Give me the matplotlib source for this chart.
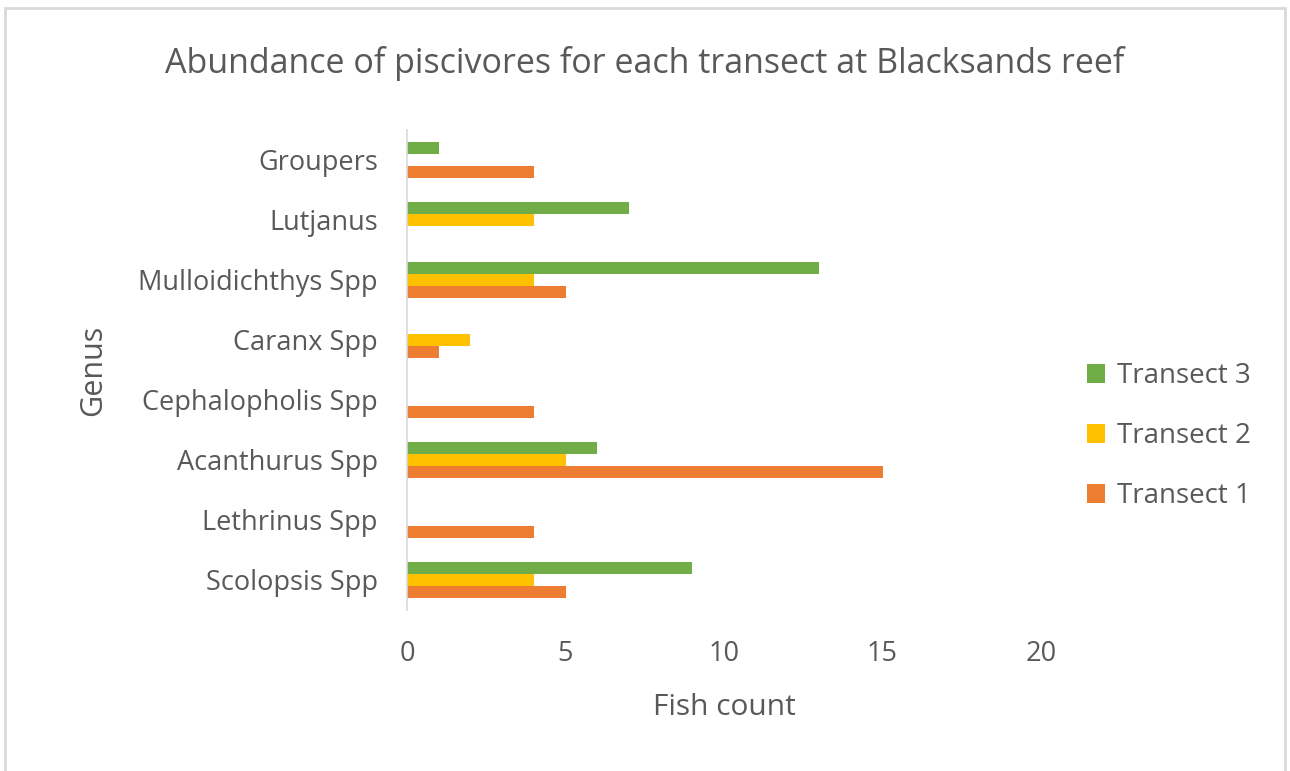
import numpy as np
import matplotlib.pyplot as plt
from matplotlib.patches import Rectangle

# Data (bottom to top)
genera = ["Scolopsis Spp", "Lethrinus Spp", "Acanthurus Spp", "Cephalopholis Spp",
          "Caranx Spp", "Mulloidichthys Spp", "Lutjanus", "Groupers"]
transect1 = [5, 4, 15, 4, 1, 5, 0, 4]
transect2 = [4, 0, 5, 0, 2, 4, 4, 0]
transect3 = [9, 0, 6, 0, 0, 13, 7, 1]

colors = {"Transect 1": "#ED7D31", "Transect 2": "#FFC000", "Transect 3": "#70AD47"}
text_color = "#595959"

plt.rcParams['font.family'] = ['Open Sans', 'DejaVu Sans']

fig = plt.figure(figsize=(12.9, 7.71), dpi=100)
ax = fig.add_axes([0.3155, 0.209, 0.4915, 0.6225])

y = np.arange(len(genera))
h = 0.2
ax.barh(y - h, transect1, height=h, color=colors["Transect 1"], label="Transect 1")
ax.barh(y, transect2, height=h, color=colors["Transect 2"], label="Transect 2")
ax.barh(y + h, transect3, height=h, color=colors["Transect 3"], label="Transect 3")

ax.set_xlim(0, 20)
ax.set_ylim(-0.5, len(genera) - 0.5)
ax.set_xticks([0, 5, 10, 15, 20])
ax.set_yticks(y)
ax.set_yticklabels(genera)
ax.tick_params(axis='both', length=0, labelsize=19.5, colors=text_color)
ax.tick_params(axis='x', pad=22)
ax.tick_params(axis='y', pad=21)

for side in ["top", "right", "bottom"]:
    ax.spines[side].set_visible(False)
ax.spines["left"].set_color("#D9D9D9")
ax.spines["left"].set_linewidth(1.2)

ax.set_xlabel("Fish count", fontsize=21.5, color=text_color, labelpad=18)
ax.set_ylabel("Genus", fontsize=22, color=text_color, labelpad=22)

fig.text(0.5, 0.918, "Abundance of piscivores for each transect at Blacksands reef",
         ha='center', va='center', fontsize=24.5, color=text_color)

handles, labels = ax.get_legend_handles_labels()
leg = fig.legend(handles[::-1], labels[::-1], loc='center left', bbox_to_anchor=(0.823, 0.434),
                 frameon=False, fontsize=20, handlelength=0.65, handleheight=0.65,
                 handletextpad=0.45, labelspacing=1.15, labelcolor=text_color)

# chart border
fig.patches.append(Rectangle((0.004, -0.01), 0.992, 0.999, transform=fig.transFigure,
                             fill=False, edgecolor="#D9D9D9", linewidth=2))

fig.savefig("out.png", dpi=100)
